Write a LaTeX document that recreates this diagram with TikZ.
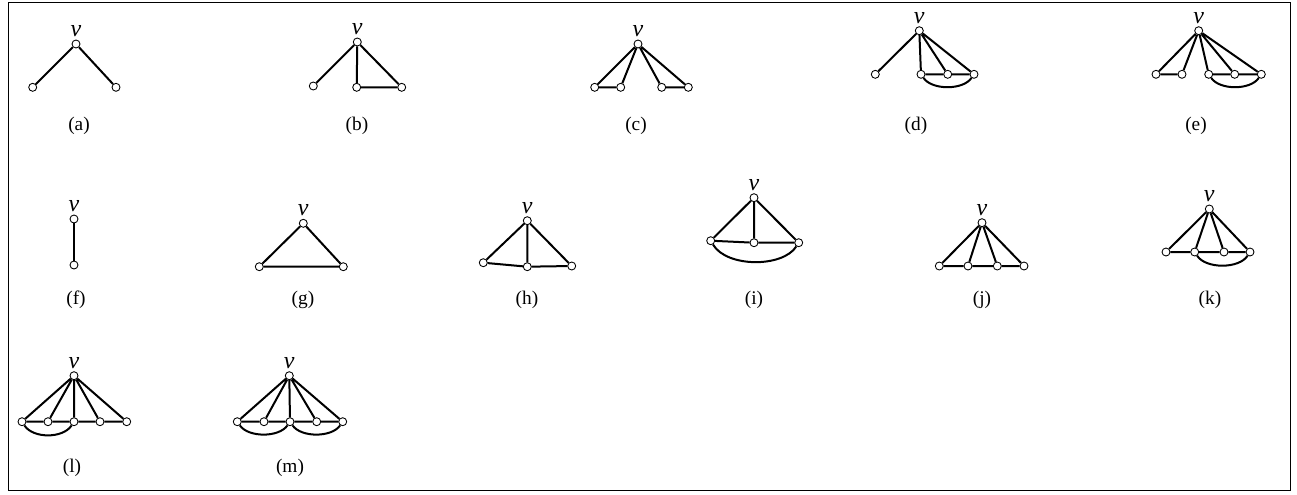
\documentclass[tikz,border=0pt]{standalone}
\usepackage{fontspec}
\setmainfont{Liberation Serif}
\begin{document}
\begin{tikzpicture}[x=0.75pt,y=-0.75pt,
 vtx/.style={circle,draw,fill=white,inner sep=0pt,minimum size=6pt,line width=0.65pt},
 ed/.style={line width=1.5pt},
 vlab/.style={font=\fontsize{18}{18}\selectfont\itshape,inner sep=0pt,anchor=base},
 subcap/.style={font=\fontsize{14.5}{16}\selectfont,inner sep=0pt}]
\useasboundingbox (0,0) rectangle (1297,494);
\draw[line width=0.75pt] (8,2) rectangle (1290,490);

% (a)
\node[vtx] (av) at (76,44) {};
\node[vtx] (a1) at (32.7,87.3) {};
\node[vtx] (a2) at (116,87.3) {};
\node[vlab] (avl) at (76,36.5) {v};
\draw[ed] (av)--(a1) (av)--(a2);
\node[subcap] (ca) at (79,126) {(a)};

% (b)
\node[vtx] (bv) at (357.3,42) {};
\node[vtx] (b1) at (313.3,86) {};
\node[vtx] (b2) at (356.7,87.3) {};
\node[vtx] (b3) at (401.7,87.3) {};
\node[vlab] (bvl) at (357.3,34.5) {v};
\draw[ed] (bv)--(b1) (bv)--(b2) (bv)--(b3) (b2)--(b3);
\node[subcap] (cb) at (357,126) {(b)};

% (c)
\node[vtx] (cv) at (638,44) {};
\node[vtx] (c1) at (594.7,87.3) {};
\node[vtx] (c2) at (620.7,87.3) {};
\node[vtx] (c3) at (661.7,87.3) {};
\node[vtx] (c4) at (688.3,87.3) {};
\node[vlab] (cvl) at (638,36.5) {v};
\draw[ed] (cv)--(c1) (cv)--(c2) (cv)--(c3) (cv)--(c4) (c1)--(c2) (c3)--(c4);
\node[subcap] (cc) at (636,126) {(c)};

% (d)
\node[vtx] (dv) at (919.3,30.7) {};
\node[vtx] (d1) at (875.3,74.3) {};
\node[vtx] (d2) at (921,74.3) {};
\node[vtx] (d3) at (947.7,74.3) {};
\node[vtx] (d4) at (974,74.3) {};
\node[vlab] (dvl) at (919.3,23.2) {v};
\draw[ed] (dv)--(d1) (dv)--(d2) (dv)--(d3) (dv)--(d4) (d2)--(d3) (d3)--(d4);
\draw[ed] (d2) .. controls +(11,16) and +(-11,16) .. (d4);
\node[subcap] (cd) at (916,126) {(d)};

% (e)
\node[vtx] (ev) at (1198.7,30.7) {};
\node[vtx] (e1) at (1156,74.3) {};
\node[vtx] (e2) at (1182,74.3) {};
\node[vtx] (e3) at (1208.7,74.3) {};
\node[vtx] (e4) at (1234.7,74.3) {};
\node[vtx] (e5) at (1261.3,74.3) {};
\node[vlab] (evl) at (1198.7,23.2) {v};
\draw[ed] (ev)--(e1) (ev)--(e2) (ev)--(e3) (ev)--(e4) (ev)--(e5) (e1)--(e2) (e3)--(e4) (e4)--(e5);
\draw[ed] (e3) .. controls +(11,16) and +(-11,16) .. (e5);
\node[subcap] (ce) at (1196,126) {(e)};

% (f)
\node[vtx] (fv) at (74,219) {};
\node[vtx] (f1) at (74,265) {};
\node[vlab] (fvl) at (74,211.5) {v};
\draw[ed] (fv)--(f1);
\node[subcap] (cf) at (76,300) {(f)};

% (g)
\node[vtx] (gv) at (303.3,223.3) {};
\node[vtx] (g1) at (259.3,266.7) {};
\node[vtx] (g2) at (343.3,266.7) {};
\node[vlab] (gvl) at (303.3,215.8) {v};
\draw[ed] (gv)--(g1) (gv)--(g2) (g1)--(g2);
\node[subcap] (cg) at (303,300) {(g)};

% (h)
\node[vtx] (hv) at (527.3,220.7) {};
\node[vtx] (h1) at (483.3,262.7) {};
\node[vtx] (h2) at (527.3,266.7) {};
\node[vtx] (h3) at (571.7,266) {};
\node[vlab] (hvl) at (527.3,213.2) {v};
\draw[ed] (hv)--(h1) (hv)--(h2) (hv)--(h3) (h1)--(h2) (h2)--(h3);
\node[subcap] (ch) at (527,300) {(h)};

% (i)
\node[vtx] (iv) at (754,197.7) {};
\node[vtx] (i1) at (710.7,240.7) {};
\node[vtx] (i2) at (754,242.7) {};
\node[vtx] (i3) at (798.7,242.7) {};
\node[vlab] (ivl) at (754,190.2) {v};
\draw[ed] (iv)--(i1) (iv)--(i2) (iv)--(i3) (i1)--(i2) (i2)--(i3);
\draw[ed] (i1) .. controls +(16,27) and +(-16,25) .. (i3);
\node[subcap] (ci) at (754,300) {(i)};

% (j)
\node[vtx] (jv) at (982,222.7) {};
\node[vtx] (j1) at (939.3,266) {};
\node[vtx] (j2) at (968,266) {};
\node[vtx] (j3) at (997.3,266) {};
\node[vtx] (j4) at (1024,266) {};
\node[vlab] (jvl) at (982,215.2) {v};
\draw[ed] (jv)--(j1) (jv)--(j2) (jv)--(j3) (jv)--(j4) (j1)--(j2) (j2)--(j3) (j3)--(j4);
\node[subcap] (cj) at (982,300) {(j)};

% (k)
\node[vtx] (kv) at (1209.3,209) {};
\node[vtx] (k1) at (1166,252) {};
\node[vtx] (k2) at (1194.7,252) {};
\node[vtx] (k3) at (1224,252) {};
\node[vtx] (k4) at (1250,252) {};
\node[vlab] (kvl) at (1209.3,201.5) {v};
\draw[ed] (kv)--(k1) (kv)--(k2) (kv)--(k3) (kv)--(k4) (k1)--(k2) (k2)--(k3) (k3)--(k4);
\draw[ed] (k2) .. controls +(11,17) and +(-11,17) .. (k4);
\node[subcap] (ck) at (1210,300) {(k)};

% (l)
\node[vtx] (lv) at (74,375.7) {};
\node[vtx] (l1) at (22,421.7) {};
\node[vtx] (l2) at (48,421.7) {};
\node[vtx] (l3) at (74,421.7) {};
\node[vtx] (l4) at (100,421.7) {};
\node[vtx] (l5) at (126.7,421.7) {};
\node[vlab] (lvl) at (74,368.2) {v};
\draw[ed] (lv)--(l1) (lv)--(l2) (lv)--(l3) (lv)--(l4) (lv)--(l5) (l1)--(l2) (l2)--(l3) (l3)--(l4) (l4)--(l5);
\draw[ed] (l1) .. controls +(11,17) and +(-11,17) .. (l3);
\node[subcap] (cl) at (72,468) {(l)};

% (m)
\node[vtx] (mv) at (289.3,375.7) {};
\node[vtx] (m1) at (237.3,421.7) {};
\node[vtx] (m2) at (264,421.7) {};
\node[vtx] (m3) at (290,421.7) {};
\node[vtx] (m4) at (316.7,421.7) {};
\node[vtx] (m5) at (342.7,421.7) {};
\node[vlab] (mvl) at (289.3,368.2) {v};
\draw[ed] (mv)--(m1) (mv)--(m2) (mv)--(m3) (mv)--(m4) (mv)--(m5) (m1)--(m2) (m2)--(m3) (m3)--(m4) (m4)--(m5);
\draw[ed] (m1) .. controls +(11,16) and +(-11,16) .. (m3);
\draw[ed] (m3) .. controls +(11,16) and +(-11,16) .. (m5);
\node[subcap] (cm) at (290,468) {(m)};
\end{tikzpicture}
\end{document}
